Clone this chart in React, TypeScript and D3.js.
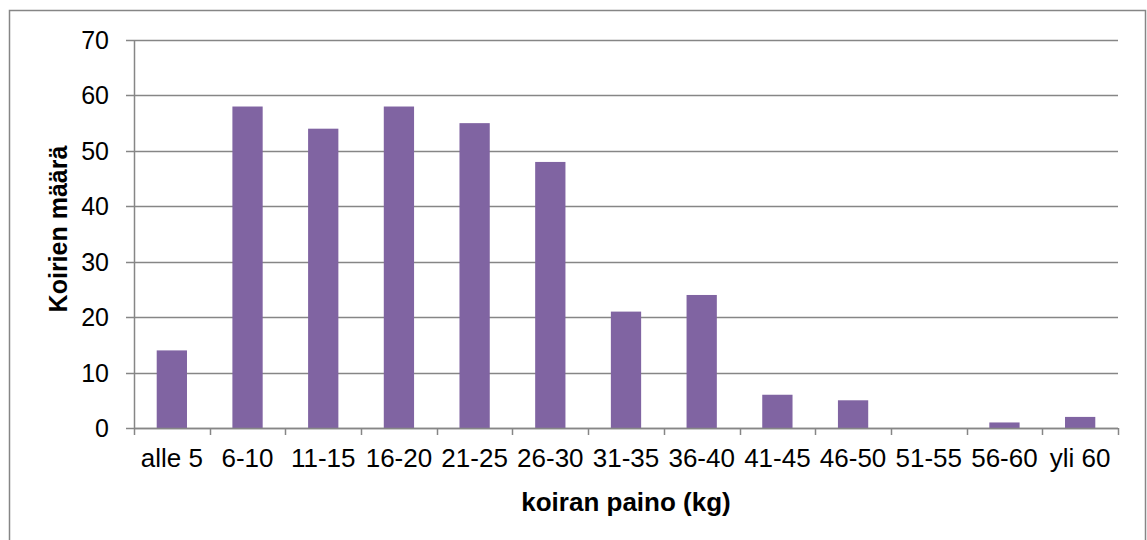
import { useEffect, useRef } from "react";
import * as d3 from "d3";

const categories = [
  "alle 5", "6-10", "11-15", "16-20", "21-25", "26-30", "31-35",
  "36-40", "41-45", "46-50", "51-55", "56-60", "yli 60",
];
const counts = [14, 58, 54, 58, 55, 48, 21, 24, 6, 5, 0, 1, 2];
const yTicks = [0, 10, 20, 30, 40, 50, 60, 70];

export default function App() {
  const svgRef = useRef<SVGSVGElement>(null);

  useEffect(() => {
    if (!svgRef.current) return;
    const svg = d3.select(svgRef.current);
    svg.selectAll("*").remove();

    const width = 1147;
    const height = 540;
    const left = 134;
    const right = 1118;
    const top = 40;
    const bottom = 428;
    const font = "Arial, 'Liberation Sans', sans-serif";
    const gray = "#868686";

    // chart frame (bottom edge falls just outside the picture)
    svg
      .append("rect")
      .attr("x", 9.5)
      .attr("y", 10.5)
      .attr("width", 1136)
      .attr("height", 532)
      .attr("fill", "white")
      .attr("stroke", gray)
      .attr("stroke-width", 1.5);

    const x = d3.scaleBand<string>().domain(categories).range([left, right]).padding(0);
    const y = d3.scaleLinear().domain([0, 70]).range([bottom, top]);

    // gridlines + y ticks
    svg
      .append("g")
      .selectAll("line")
      .data(yTicks)
      .enter()
      .append("line")
      .attr("x1", left - 8)
      .attr("x2", right)
      .attr("y1", (d) => Math.round(y(d)) + 0.5)
      .attr("y2", (d) => Math.round(y(d)) + 0.5)
      .attr("stroke", gray)
      .attr("stroke-width", 1.5);

    svg
      .append("g")
      .selectAll("text")
      .data(yTicks)
      .enter()
      .append("text")
      .attr("x", 109)
      .attr("y", (d) => y(d))
      .attr("dy", "0.36em")
      .attr("text-anchor", "end")
      .attr("font-family", font)
      .attr("font-size", 25)
      .attr("fill", "#000")
      .text((d) => d);

    // bars
    const bw = x.bandwidth() * 0.4;
    svg
      .append("g")
      .selectAll("rect")
      .data(counts)
      .enter()
      .append("rect")
      .attr("x", (d, i) => (x(categories[i]) as number) + (x.bandwidth() - bw) / 2)
      .attr("y", (d) => y(d))
      .attr("width", bw)
      .attr("height", (d) => bottom - y(d))
      .attr("fill", "#8064A2");

    // y axis line
    svg
      .append("line")
      .attr("x1", left + 0.5)
      .attr("x2", left + 0.5)
      .attr("y1", top)
      .attr("y2", bottom)
      .attr("stroke", gray)
      .attr("stroke-width", 1.5);

    // x axis line and ticks
    svg
      .append("line")
      .attr("x1", left)
      .attr("x2", right)
      .attr("y1", bottom + 0.5)
      .attr("y2", bottom + 0.5)
      .attr("stroke", gray)
      .attr("stroke-width", 1.5);

    const tickPos = categories.map((c) => x(c) as number).concat([right]);
    svg
      .append("g")
      .selectAll("line")
      .data(tickPos)
      .enter()
      .append("line")
      .attr("x1", (d) => Math.round(d) + 0.5)
      .attr("x2", (d) => Math.round(d) + 0.5)
      .attr("y1", bottom)
      .attr("y2", bottom + 7)
      .attr("stroke", gray)
      .attr("stroke-width", 1.5);

    svg
      .append("g")
      .selectAll("text")
      .data(categories)
      .enter()
      .append("text")
      .attr("x", (d) => (x(d) as number) + x.bandwidth() / 2)
      .attr("y", 467)
      .attr("text-anchor", "middle")
      .attr("font-family", font)
      .attr("font-size", 26)
      .attr("fill", "#000")
      .text((d) => d);

    // axis titles
    svg
      .append("text")
      .attr("x", 626)
      .attr("y", 511)
      .attr("text-anchor", "middle")
      .attr("font-family", font)
      .attr("font-size", 26)
      .attr("font-weight", "bold")
      .attr("fill", "#000")
      .text("koiran paino (kg)");

    svg
      .append("text")
      .attr("transform", `translate(67,229) rotate(-90)`)
      .attr("text-anchor", "middle")
      .attr("font-family", font)
      .attr("font-size", 25)
      .attr("font-weight", "bold")
      .attr("fill", "#000")
      .text("Koirien määrä");

    svg.attr("width", width).attr("height", height);
  }, []);

  return (
    <svg
      ref={svgRef}
      style={{ position: "absolute", left: 0, top: 0, background: "white" }}
    ></svg>
  );
}
